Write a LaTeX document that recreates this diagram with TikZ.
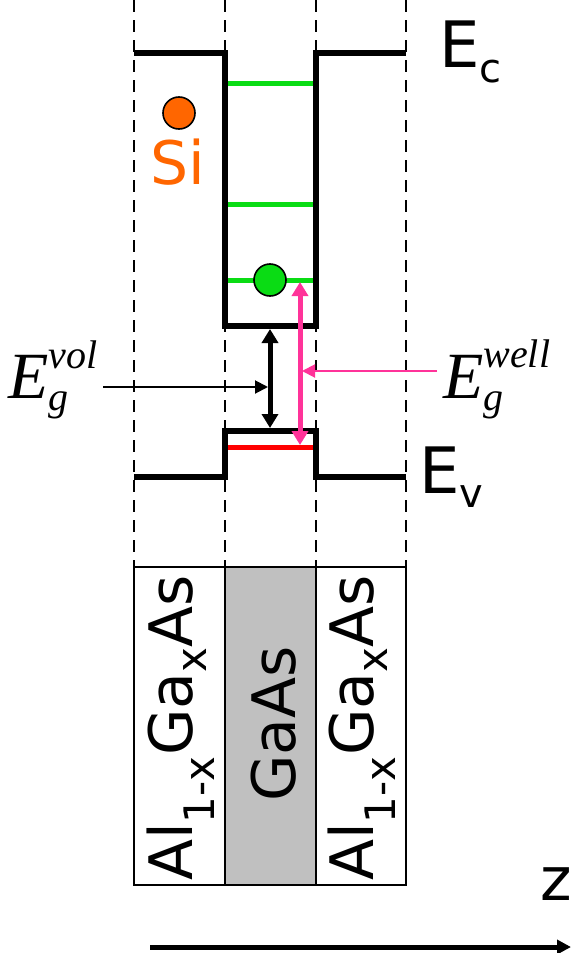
\documentclass[tikz,border=0pt]{standalone}
\usepackage{fontspec}
\setmainfont{DejaVu Sans}
\newfontfamily\timesfont{Liberation Serif}
\usepackage{tikz}
\usetikzlibrary{arrows.meta, positioning, calc}
\definecolor{siorange}{RGB}{255,102,0}
\definecolor{levelgreen}{RGB}{10,220,20}
\definecolor{gappink}{RGB}{255,51,153}
\definecolor{holered}{RGB}{255,0,0}
\definecolor{layergray}{RGB}{192,192,192}

\begin{document}
\begin{tikzpicture}[x=1pt, y=-1pt,
  band/.style={line width=5.5pt, line join=miter},
  level/.style={line width=5pt},
  guide/.style={line width=1.8pt, dash pattern=on 12pt off 8pt},
  layer/.style={draw, line width=1.8pt},
  big/.style={font=\fontsize{60}{60}\selectfont, inner sep=0pt},
  gaplabel/.style={inner sep=0pt, anchor=base west, font=\timesfont\itshape\fontsize{66}{66}\selectfont},
  gaparrow/.style={line width=5pt, {Triangle[length=14pt,width=16pt]}-{Triangle[length=14pt,width=16pt]}},
  pointer/.style={line width=2pt, -{Triangle[length=13pt,width=13pt]}},
  dot/.style={circle, draw, line width=1.6pt, minimum size=32pt, inner sep=0pt}]
  \useasboundingbox (0,0) rectangle (571,953);
  % layer stack
  \draw[layer] (134,567) rectangle (225,885);
  \draw[layer, fill=layergray] (225,567) rectangle (316,885);
  \draw[layer] (316,567) rectangle (406,885);
  \foreach \x in {134,225,316,406}
    \draw[guide] (\x,0) -- (\x,567);
  % band edges
  \draw[band] (134,53) -- (225,53) -- (225,326) -- (316,326) -- (316,53) -- (406,53);
  \draw[band] (134,477) -- (225,477) -- (225,431) -- (316,431) -- (316,477) -- (406,477);
  \foreach \y in {83,204,280}
    \draw[level, levelgreen] (228,\y) -- (313,\y);
  \draw[level, holered] (228,447) -- (313,447);
  \node[dot, fill=levelgreen] (electron) at (270,280) {};
  \node[dot, fill=siorange] (donor) at (179,113) {};
  \node[big, text=siorange, anchor=base] (si) at (178,184) {Si};
  % gaps
  \coordinate (volTop) at (270,329);
  \coordinate (volBot) at (270,428);
  \coordinate (wellTop) at (300,282);
  \coordinate (wellBot) at (300,445);
  \draw[gaparrow] (volTop) -- (volBot);
  \draw[gaparrow, gappink] (wellTop) -- (wellBot);
  \node[gaplabel] (volLabel) at (8,398)
    {E\rlap{\raisebox{30pt}{\fontsize{40}{40}\selectfont vol}}\raisebox{-12pt}{\fontsize{40}{40}\selectfont g}};
  \node[gaplabel] (wellLabel) at (443,398)
    {E\rlap{\raisebox{31pt}{\fontsize{40}{40}\selectfont well}}\raisebox{-12pt}{\fontsize{40}{40}\selectfont g}};
  \coordinate (volTail) at (103,387);
  \coordinate (volHead) at (268,387);
  \coordinate (wellTail) at (437,371);
  \coordinate (wellHead) at (302,371);
  \draw[pointer] (volTail) -- (volHead);
  \draw[pointer, gappink] (wellTail) -- (wellHead);
  % band labels
  \node[anchor=base west, inner sep=0pt, font=\fontsize{64}{64}\selectfont] (ec) at (439,67)
    {E\raisebox{-15pt}{\fontsize{40}{40}\selectfont c}};
  \node[anchor=base west, inner sep=0pt, font=\fontsize{64}{64}\selectfont] (ev) at (419,493)
    {E\raisebox{-14pt}{\fontsize{40}{40}\selectfont v}};
  % layer names
  \node[big, rotate=90, anchor=base] (leftLayer) at (192,728) {Al\textsubscript{1-x}Ga\textsubscript{x}As};
  \node[big, rotate=90, anchor=base] (wellLayer) at (295,724) {GaAs};
  \node[big, rotate=90, anchor=base] (rightLayer) at (373,728) {Al\textsubscript{1-x}Ga\textsubscript{x}As};
  % growth axis
  \node[big, anchor=base] (zLabel) at (556,900) {z};
  \coordinate (zStart) at (150,947);
  \coordinate (zEnd) at (571,947);
  \draw[line width=5pt, -{Triangle[length=14pt,width=14pt]}] (zStart) -- (zEnd);
\end{tikzpicture}
\end{document}
